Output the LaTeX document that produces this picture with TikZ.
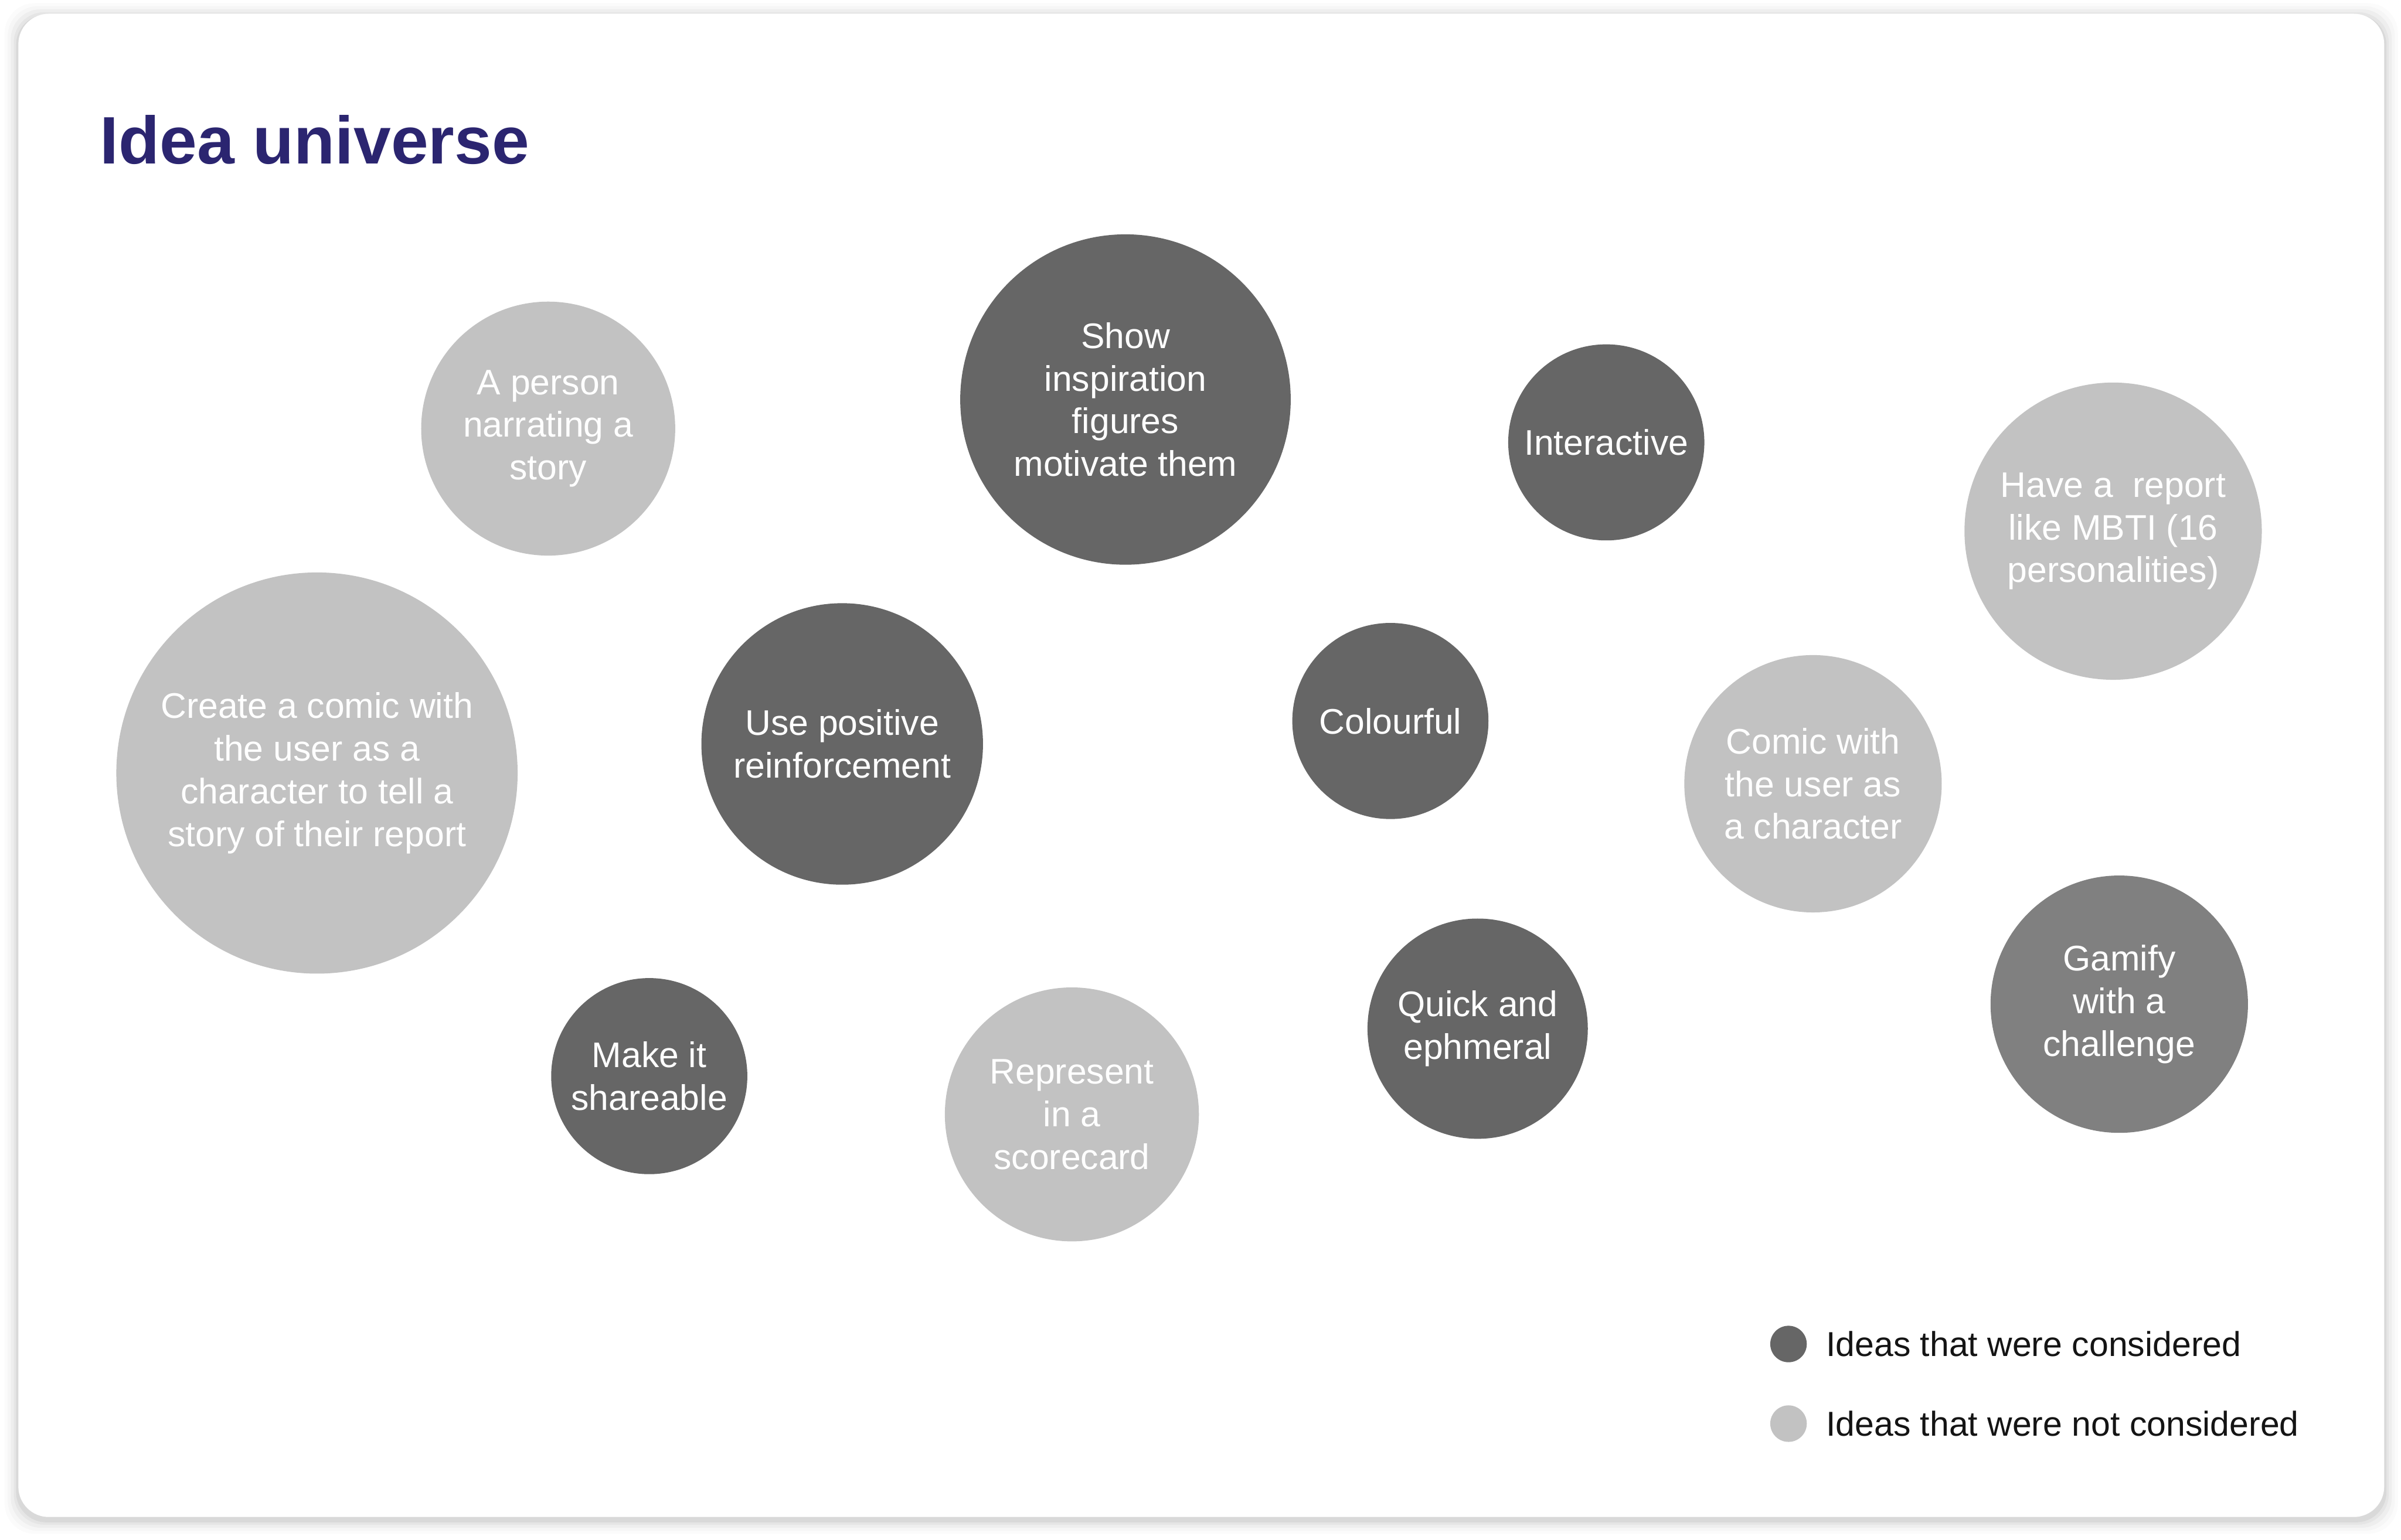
\documentclass[tikz,border=0pt]{standalone}
\usepackage{fontspec}
\setmainfont{Liberation Sans}
\usepackage{xcolor}
\usepackage{tikz}
\usetikzlibrary{positioning}
\definecolor{ideadark}{RGB}{102,102,102}
\definecolor{ideamid}{RGB}{128,128,128}
\definecolor{idealight}{RGB}{194,194,194}
\definecolor{titleblue}{RGB}{43,37,112}
\definecolor{legendink}{RGB}{20,20,20}
\tikzset{
  idea/.style={circle, inner sep=0pt, text=white, align=center,
    font=\fontsize{18}{21.6}\selectfont},
  considered/.style={idea, fill=ideadark},
  dropped/.style={idea, fill=idealight},
  gamified/.style={idea, fill=ideamid},
  dot/.style={circle, inner sep=0pt, minimum size=6.5mm},
  legtxt/.style={inner sep=0pt, anchor=west, text=legendink,
    font=\fontsize{17.5}{21}\selectfont},
  card/.style={fill=white, rounded corners=5.4mm}
}

\begin{document}
\begin{tikzpicture}[x=0.27245mm, y=-0.27245mm]
  \useasboundingbox (0,0) rectangle (1568,1006);
  % soft shadow round the card
  \foreach \s/\o in {9/0.015, 7/0.02, 5/0.03, 3/0.04, 1.5/0.05}
    \fill[black, opacity=\o, rounded corners=5.4mm]
      (12-\s,9-\s+2) rectangle (1557+\s,991+\s+2);
  \fill[card] (12,9) rectangle (1557,991);

  \node[anchor=base west, inner sep=0pt, text=titleblue,
    font=\fontsize{34}{40}\selectfont\bfseries] (title) at (65,107) {Idea universe};

  % idea bubbles
  \node[dropped, minimum size=45.2mm] (story) at (358,280) {A person\\narrating a\\story};
  \node[considered, minimum size=58.8mm] (inspire) at (735,261) {Show\\inspiration\\figures\\motivate them};
  \node[considered, minimum size=34.9mm] (interact) at (1049,289) {Interactive};
  \node[dropped, minimum size=52.9mm] (mbti) at (1380,347) {Have a\ \ report\\like MBTI (16\\personalities)};
  \node[dropped, minimum size=71.4mm] (comicrep) at (207,505) {Create a comic with\\the user as a\\character to tell a\\story of their report};
  \node[considered, minimum size=50.1mm] (positive) at (550,486) {Use positive\\reinforcement};
  \node[considered, minimum size=34.9mm] (colour) at (908,471) {Colourful};
  \node[dropped, minimum size=45.8mm] (comicusr) at (1184,512) {Comic with\\the user as\\a character};
  \node[considered, minimum size=34.9mm] (share) at (424,703) {Make it\\shareable};
  \node[dropped, minimum size=45.2mm] (score) at (700,728) {Represent\\in a\\scorecard};
  \node[considered, minimum size=39.2mm] (quick) at (965,672) {Quick and\\ephmeral};
  \node[gamified, minimum size=45.8mm] (gamify) at (1384,656) {Gamify\\with a\\challenge};

  % legend
  \node[dot, fill=ideadark] (kdot) at (1168,878) {};
  \node[legtxt, right=3.3mm of kdot] (ktxt) {Ideas that were considered};
  \node[dot, fill=idealight] (ddot) at (1168,930) {};
  \node[legtxt, right=3.3mm of ddot] (dtxt) {Ideas that were not considered};
\end{tikzpicture}
\end{document}
